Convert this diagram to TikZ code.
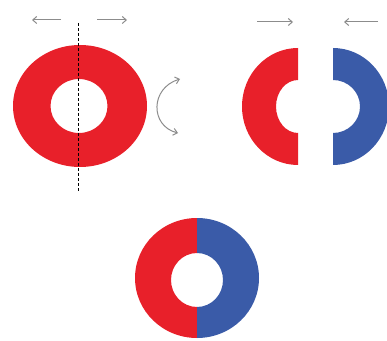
\documentclass[tikz,border=0pt]{standalone}
\usetikzlibrary{arrows.meta}
\definecolor{ringred}{HTML}{E8202A}
\definecolor{ringblue}{HTML}{3A5BA8}
\definecolor{arrowgray}{HTML}{8C8C8C}
\begin{document}
\begin{tikzpicture}[x=1pt,y=1pt,
  motion/.style={draw=arrowgray, line width=1pt, -{Straight Barb[length=4pt,width=7pt]}},
  turn/.style={draw=arrowgray, line width=1pt, {Straight Barb[length=4pt,width=7pt]}-{Straight Barb[length=4pt,width=7pt]}},
  axis/.style={draw=black, line width=0.9pt, dash pattern=on 3pt off 2pt}]
\useasboundingbox (0,0) rectangle (387,340);
\clip (0,0) rectangle (387,340);
% top-left whole ring
\fill[ringred, even odd rule] (80,234) ellipse [x radius=67, y radius=61]
   (79,234) ellipse [x radius=28.5, y radius=27];
\coordinate (axtop) at (78,317);
\coordinate (axbot) at (78,148);
\draw[axis] (axtop) -- (axbot);
% separation arrows
\coordinate (la1) at (61,320); \coordinate (la2) at (32,320);
\coordinate (ra1) at (97,320); \coordinate (ra2) at (127,320);
\draw[motion] (la1) -- (la2);
\draw[motion] (ra1) -- (ra2);
% rotation arrow
\coordinate (rt) at (180,261);
\coordinate (rb) at (178,207);
\draw[turn] (rt) .. controls (150,252) and (150,214) .. (rb);
% top-right halves
\fill[ringred] (298,292) arc[start angle=90, end angle=270, x radius=56, y radius=58.5]
   -- (298,207) arc[start angle=270, end angle=90, x radius=22, y radius=26.5] -- cycle;
\fill[ringblue] (333,292) arc[start angle=90, end angle=-90, x radius=56, y radius=58.5]
   -- (333,207) arc[start angle=-90, end angle=90, x radius=27, y radius=26.5] -- cycle;
\coordinate (ca1) at (257,318); \coordinate (ca2) at (293,318);
\coordinate (cb1) at (378,318); \coordinate (cb2) at (344,318);
\draw[motion] (ca1) -- (ca2);
\draw[motion] (cb1) -- (cb2);
% bottom joined ring
\fill[ringred] (197,122) arc[start angle=90, end angle=270, x radius=62, y radius=60]
   -- (197,33) arc[start angle=270, end angle=90, x radius=26, y radius=27] -- cycle;
\fill[ringblue] (197,122) arc[start angle=90, end angle=-90, x radius=62, y radius=60]
   -- (197,33) arc[start angle=-90, end angle=90, x radius=26, y radius=27] -- cycle;
\end{tikzpicture}
\end{document}
